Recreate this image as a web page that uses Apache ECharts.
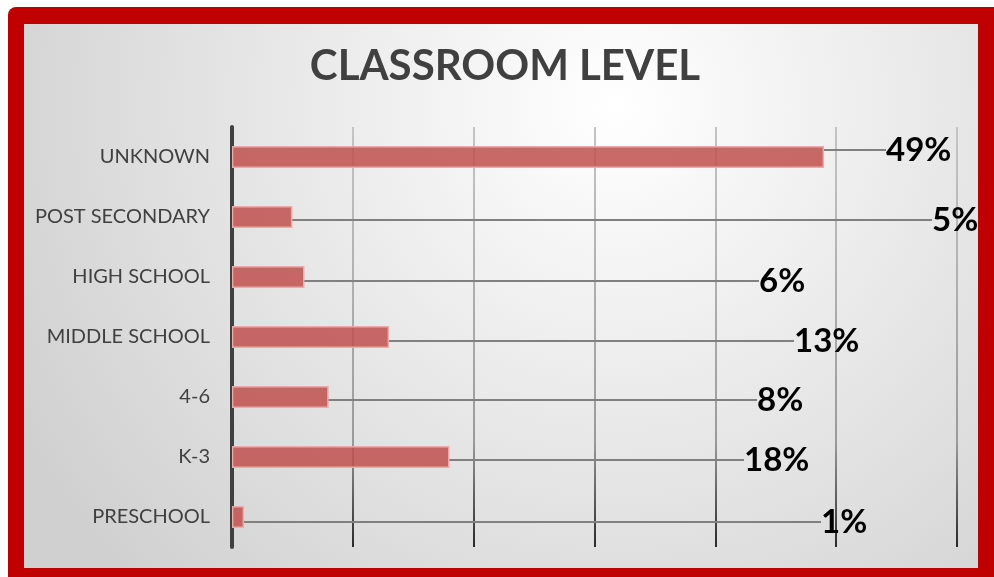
<!DOCTYPE html>
<html>
<head>
<meta charset="utf-8">
<script src="https://cdn.jsdelivr.net/npm/echarts@6/dist/echarts.min.js"></script>
<style>
  html, body { margin: 0; padding: 0; background: #fff; }
  #chart { width: 994px; height: 577px; }
</style>
</head>
<body>
<div id="chart"></div>
<script>
// data, top row first
const categories = ['UNKNOWN', 'POST SECONDARY', 'HIGH SCHOOL', 'MIDDLE SCHOOL', '4-6', 'K-3', 'PRESCHOOL']
const shares = [49, 5, 6, 13, 8, 18, 1]
const xTicks = [0, 10, 20, 30, 40, 50, 60]

// where the callouts were dragged to (left edge of text, offset from bar centre)
const calloutX = [886, 932, 759, 794, 757, 744, 821]
const calloutDy = [-7, 3, 4, 4, 3, 3, 5]

let chart = echarts.init(document.getElementById('chart'))

let option = {
  animation: false,
  graphic: [
    {
      type: 'rect',
      z: -10,
      shape: { x: 8, y: 7, width: 994, height: 580, r: 8 },
      style: { fill: '#c00000' }
    },
    {
      type: 'rect',
      z: -9,
      shape: { x: 24, y: 24, width: 954, height: 544 },
      style: {
        fill: {
          type: 'radial', x: 0.62, y: 0.15, r: 1.25,
          colorStops: [
            { offset: 0, color: '#ffffff' },
            { offset: 1, color: '#d0d0d0' }
          ]
        }
      }
    }
  ],
  title: {
    text: 'CLASSROOM LEVEL',
    left: 500,
    textAlign: 'center',
    top: 40,
    textStyle: {
      fontFamily: 'Lato',
      fontWeight: 'bold',
      fontSize: 42,
      color: '#404040'
    }
  },
  grid: { left: 232, right: 37, top: 127, bottom: 30, containLabel: false },
  xAxis: {
    type: 'value',
    min: xTicks[0],
    max: xTicks[xTicks.length - 1],
    interval: xTicks[1] - xTicks[0],
    axisLabel: { show: false },
    axisLine: { show: false },
    axisTick: { show: false },
    splitLine: {
      lineStyle: {
        width: 2,
        color: {
          type: 'linear', x: 0, y: 127, x2: 0, y2: 547, global: true,
          colorStops: [
            { offset: 0, color: '#c4c4c4' },
            { offset: 0.75, color: '#9a9a9a' },
            { offset: 1, color: '#2a2a2a' }
          ]
        }
      }
    }
  },
  yAxis: {
    type: 'category',
    inverse: true,
    data: categories,
    axisTick: { show: false },
    axisLine: { lineStyle: { color: '#404040', width: 4 } },
    axisLabel: {
      margin: 22,
      fontFamily: 'Lato',
      fontSize: 20,
      color: '#404040'
    }
  },
  series: [{
    type: 'bar',
    data: shares,
    barWidth: 22,
    itemStyle: {
      color: 'rgba(192, 80, 77, 0.85)',
      borderColor: '#eeaaa8',
      borderWidth: 1.5
    },
    label: {
      show: true,
      position: 'right',
      formatter: p => p.value + '%',
      fontFamily: 'Lato',
      fontWeight: 'bold',
      fontSize: 33,
      color: '#000'
    },
    labelLine: {
      show: true,
      lineStyle: { color: '#808080', width: 2 }
    },
    labelLayout: function (params) {
      let i = params.dataIndex
      return {
        x: calloutX[i],
        y: params.rect.y + params.rect.height / 2 + calloutDy[i],
        align: 'left',
        verticalAlign: 'middle'
      }
    }
  }]
}

chart.setOption(option)
</script>
</body>
</html>
